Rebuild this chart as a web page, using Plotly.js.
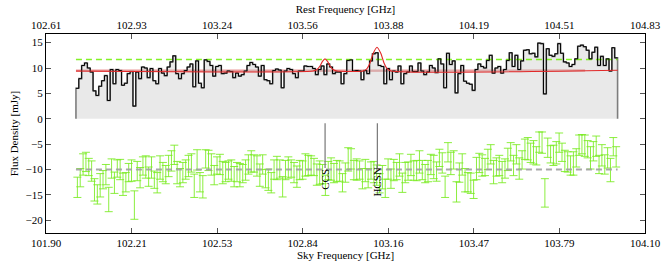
<!DOCTYPE html>
<html>
<head>
<meta charset="utf-8">
<script src="https://cdn.plot.ly/plotly-3.0.1.min.js"></script>
<style>
  html, body { margin: 0; padding: 0; background: #ffffff; }
  #chart { width: 664px; height: 266px; }
</style>
</head>
<body>
<div id="chart"></div>
<script>
// ---------------- data ----------------
// Spectrum: flux density per channel [mJy]
const spectrum = [
  6.0, 7.9, 10.5, 11.0, 10.0, 9.2, 5.5, 4.6, 6.4, 7.5, 8.5, 3.6, 9.7, 6.9, 9.7, 9.5, 6.6, 7.0, 8.9, 9.3,
  2.5, 9.2, 7.9, 10.2, 10.0, 8.1, 9.9, 7.5, 6.9, 9.9, 9.0, 8.5, 10.2, 11.2, 12.4, 8.9, 7.9, 8.9,
  9.5, 10.2, 10.8, 6.3, 11.4, 7.0, 6.1, 11.6, 11.3, 10.5, 8.4, 10.3, 10.5, 8.9, 9.0, 9.4, 9.3, 8.1, 9.0, 8.4,
  8.7, 9.4, 10.5, 11.1, 10.7, 10.2, 8.4, 10.5, 7.7, 7.5, 6.9, 9.5, 9.8, 9.6, 6.1, 9.4, 9.9, 9.7, 8.9,
  8.1, 9.4, 9.4, 10.4, 10.3, 10.3, 9.9, 8.7, 9.7, 10.4, 8.7, 10.8, 10.2, 8.9, 9.2, 9.2, 6.9, 8.9, 11.5, 11.6,
  9.4, 9.5, 9.4, 7.7, 9.5, 8.9, 11.4, 12.8, 13.0, 10.5, 10.3, 6.9, 9.9, 7.7, 9.4, 9.2, 10.4, 6.9, 8.9,
  9.2, 10.4, 9.3, 9.3, 11.0, 9.4, 8.7, 9.2, 10.5, 10.0, 9.1, 11.8, 10.8, 6.1, 12.9, 10.7, 11.4, 5.1, 8.9, 10.5,
  7.4, 7.0, 6.8, 5.6, 9.7, 10.8, 10.3, 10.0, 11.5, 12.5, 9.0, 10.0, 10.3, 9.0, 9.7, 11.5, 13.0, 10.3,
  12.5, 9.7, 11.4, 13.5, 13.6, 12.8, 12.9, 12.2, 14.9, 14.8, 4.9, 13.8, 12.5, 12.3, 12.8, 14.8, 12.9, 11.2,
  11.0, 10.3, 10.7, 11.8, 14.3, 14.5, 14.2, 13.5, 11.8, 13.1, 14.1, 10.5, 12.3, 10.5, 11.8, 9.4, 14.0, 12.0
];
// Residuals (data - model), drawn offset at -10 mJy
const residual = [
  -13.5, -11.6, -9.0, -8.5, -9.5, -10.3, -14.0, -14.9, -13.1, -12.0, -11.0, -15.9, -9.8, -12.6, -9.8, -10.0, -12.9, -12.5, -10.6, -10.2,
  -17.0, -10.3, -11.6, -9.3, -9.5, -11.4, -9.6, -12.0, -12.6, -9.6, -10.5, -11.0, -9.3, -8.3, -7.1, -10.6, -11.6, -10.6,
  -10.0, -9.3, -8.7, -13.2, -8.1, -12.5, -13.4, -7.9, -8.2, -9.0, -11.1, -9.2, -9.0, -10.6, -10.5, -10.1, -10.2, -11.4, -10.5, -11.1,
  -10.8, -10.1, -9.0, -8.4, -8.8, -9.3, -11.1, -9.0, -11.8, -12.0, -12.6, -10.0, -9.7, -9.9, -13.4, -10.1, -9.6, -9.8, -10.6,
  -11.4, -10.1, -10.1, -9.1, -9.2, -9.2, -9.5, -11.0, -10.6, -10.9, -13.1, -10.2, -9.9, -10.7, -10.3, -10.3, -12.6, -10.6, -8.0, -7.9,
  -10.1, -10.0, -10.1, -11.8, -10.2, -11.7, -10.2, -10.5, -11.1, -12.7, -11.5, -13.7, -9.9, -11.8, -10.1, -10.3, -9.1, -12.6, -10.6,
  -10.3, -9.1, -10.2, -10.2, -8.5, -10.1, -10.8, -10.3, -9.0, -9.5, -10.4, -7.7, -8.7, -13.4, -6.6, -8.8, -8.1, -14.4, -10.6, -9.0,
  -12.1, -12.5, -12.7, -13.9, -9.8, -8.7, -9.2, -9.5, -8.0, -7.0, -10.5, -9.5, -9.2, -10.5, -9.8, -8.0, -6.5, -9.2,
  -7.0, -9.8, -8.1, -6.0, -5.9, -6.7, -6.6, -7.3, -4.6, -4.7, -14.6, -5.7, -7.0, -7.2, -6.7, -4.7, -6.6, -8.3,
  -8.5, -9.2, -8.8, -7.7, -5.2, -5.0, -5.3, -6.0, -7.7, -6.4, -5.4, -9.0, -7.2, -9.0, -7.7, -10.1, -5.5, -7.5
];
// 1-sigma uncertainty of each residual [mJy]
const residualErr = [
  2.0, 1.8, 2.1, 1.9, 1.7, 2.0, 2.2, 1.9, 2.3, 1.8, 2.0, 2.4, 1.9, 2.1, 1.7, 2.0, 2.2, 1.9, 1.8, 2.1,
  2.8, 1.9, 2.0, 1.8, 2.2, 1.9, 2.1, 1.7, 2.0, 2.3, 1.9, 1.8, 2.1, 2.0, 1.9, 2.2, 1.8, 2.0,
  1.9, 2.1, 1.8, 2.3, 2.0, 1.9, 2.2, 1.8, 2.0, 2.1, 1.9, 1.7, 2.0, 2.2, 1.9, 1.8, 2.1, 2.0, 1.9, 2.3,
  1.8, 2.0, 1.9, 2.1, 1.7, 2.0, 2.2, 1.9, 1.8, 2.1, 2.0, 1.9, 2.3, 1.8, 2.0, 1.9, 2.1, 1.7, 2.0,
  2.1, 1.9, 1.8, 2.2, 2.0, 1.9, 1.7, 2.1, 2.3, 1.9, 2.0, 1.8, 2.2, 1.9, 2.1, 2.0, 1.8, 1.9, 2.3, 2.0,
  1.9, 2.1, 1.8, 2.0, 2.2, 1.9, 1.7, 2.1, 2.0, 1.9, 2.3, 1.8, 2.0, 1.9, 2.1, 1.7, 2.2, 1.9, 2.0,
  1.8, 2.1, 1.9, 2.0, 2.2, 1.9, 1.8, 2.1, 2.0, 2.3, 1.9, 1.7, 2.0, 2.1, 1.9, 2.2, 1.8, 2.0, 1.9, 2.1,
  2.3, 1.9, 2.0, 1.8, 2.2, 1.9, 2.1, 1.7, 2.0, 1.9, 2.3, 1.8, 2.0, 2.1, 1.9, 2.2, 1.8, 2.0,
  1.9, 2.1, 1.8, 2.0, 2.2, 1.9, 2.3, 1.8, 2.0, 2.1, 2.8, 1.9, 1.7, 2.0, 2.2, 1.9, 1.8, 2.1,
  2.0, 1.9, 2.3, 1.8, 2.0, 1.9, 2.1, 1.7, 2.2, 1.9, 2.0, 1.8, 2.1, 1.9, 2.0, 2.3, 1.8, 2.0
];
// first channel edge and channel width [GHz, sky frame]
const specStart = 102.010;
const chanWidth = 0.01047;

// Model (red line): baseline plus the two fitted lines, read as points
const modelFreq = [102.010, 102.8806, 102.8953, 102.9064, 102.9155, 102.9247, 102.9339, 102.9431, 102.9541, 102.9688,
                   103.0643, 103.0790, 103.0900, 103.1010, 103.1157, 103.1304, 103.1414, 103.1524, 103.1671, 104.000];
const modelFlux = [9.40, 9.40, 9.70, 10.40, 11.30, 11.80, 11.30, 10.40, 9.70, 9.40,
                   9.42, 9.90, 11.00, 12.80, 14.10, 12.80, 11.00, 9.90, 9.43, 9.55];
const continuumFreq = [102.010, 103.880];
const continuumFlux = [9.45, 9.50];
const detectLevel = 11.7;     // green dashed level
const residualOffset = -10;   // grey dashed level of residual panel

// identified lines
const lineNames = ['CCS', 'HCSN'];
const lineFreqs = [102.925, 103.117];

// axis ticks
const skyTicks = [101.90, 102.2143, 102.5286, 102.8429, 103.1571, 103.4714, 103.7857, 104.10];
const skyTickText = ['101.90', '102.21', '102.53', '102.84', '103.16', '103.47', '103.79', '104.10'];
const restTicks = [102.61, 102.9271, 103.2443, 103.5614, 103.8786, 104.1957, 104.5129, 104.83];
const restTickText = ['102.61', '102.93', '103.24', '103.56', '103.88', '104.19', '104.51', '104.83'];
const yTicks = [-20, -15, -10, -5, 0, 5, 10, 15];
const yTickText = ['\u221220', '\u221215', '\u221210', '\u22125', '0', '5', '10', '15'];

// ---------------- build traces ----------------
const N = spectrum.length;
const edges = [];
for (let i = 0; i <= N; i++) edges.push(specStart + i * chanWidth);
const centers = spectrum.map((_, i) => edges[i] + chanWidth / 2);
const xEnd = edges[N];

const FONT = 'Liberation Serif, Times New Roman, serif';

const traces = [];

// pale continuum line
traces.push({
  x: continuumFreq, y: continuumFlux,
  mode: 'lines', line: { color: 'rgba(225,120,120,0.75)', width: 2.4 },
  hoverinfo: 'skip', showlegend: false
});
// grey filled spectrum
const fillX = [edges[0]].concat(edges.slice(0, N)).concat([xEnd, xEnd]);
const fillY = [0].concat(spectrum).concat([spectrum[N - 1], 0]);
traces.push({
  x: fillX, y: fillY,
  mode: 'lines', line: { shape: 'hv', color: 'rgb(125,125,125)', width: 1.6 },
  fill: 'toself', fillcolor: 'rgba(200,200,200,0.40)',
  hoverinfo: 'skip', showlegend: false
});
// green dashed level
traces.push({
  x: [edges[0], xEnd], y: [detectLevel, detectLevel],
  mode: 'lines', line: { color: 'rgba(110,240,0,0.85)', width: 1.5, dash: '6px,4px' },
  hoverinfo: 'skip', showlegend: false
});
// black step spectrum
traces.push({
  x: edges, y: spectrum.concat([spectrum[N - 1]]),
  mode: 'lines', line: { shape: 'hv', color: '#000000', width: 1 },
  hoverinfo: 'skip', showlegend: false
});
// red model
traces.push({
  x: modelFreq, y: modelFlux,
  mode: 'lines', line: { shape: 'spline', smoothing: 0.6, color: 'rgb(225,40,40)', width: 1.1 },
  hoverinfo: 'skip', showlegend: false
});
// residual error bars
traces.push({
  x: centers, y: residual,
  mode: 'markers', marker: { size: 1, color: 'rgba(0,0,0,0)' },
  error_y: { type: 'data', array: residualErr, visible: true, color: 'rgba(120,235,30,0.85)', thickness: 1, width: 4 },
  hoverinfo: 'skip', showlegend: false
});
// residual dashed level
traces.push({
  x: [edges[0], xEnd], y: [residualOffset, residualOffset],
  mode: 'lines', line: { color: 'rgba(160,160,160,0.9)', width: 2, dash: '6px,4px' },
  hoverinfo: 'skip', showlegend: false
});
// invisible trace for the top (rest-frequency) axis
traces.push({
  x: [restTicks[0], restTicks[restTicks.length - 1]], y: [null, null],
  xaxis: 'x2', mode: 'lines', line: { width: 0 }, hoverinfo: 'skip', showlegend: false
});

// line markers
const shapes = lineFreqs.map(f => ({
  type: 'line', xref: 'x', yref: 'y', x0: f, x1: f, y0: -0.9, y1: -9.7,
  line: { color: 'rgb(120,120,120)', width: 1.2 }
}));
const annotations = lineNames.map((name, i) => ({
  x: lineFreqs[i], y: i === 0 ? -12.0 : -12.5, xref: 'x', yref: 'y',
  text: name, showarrow: false, textangle: -90,
  font: { family: FONT, size: 11, color: '#000' },
  xanchor: 'center', yanchor: 'middle'
}));

const axisCommon = {
  showgrid: false, zeroline: false, showline: true, linecolor: '#000', linewidth: 1,
  ticks: 'inside', ticklen: 5, tickwidth: 1, tickcolor: '#555',
  tickfont: { family: FONT, size: 11, color: '#000' }
};

const layout = {
  width: 664, height: 266,
  margin: { l: 46, r: 19, t: 34, b: 33, pad: 0 },
  paper_bgcolor: '#fff', plot_bgcolor: '#fff',
  font: { family: FONT, size: 11, color: '#000' },
  showlegend: false,
  xaxis: Object.assign({}, axisCommon, {
    range: [skyTicks[0], skyTicks[skyTicks.length - 1]],
    tickmode: 'array', tickvals: skyTicks, ticktext: skyTickText,
    title: { text: 'Sky Frequency [GHz]', font: { family: FONT, size: 11, color: '#000' }, standoff: 2 }
  }),
  xaxis2: Object.assign({}, axisCommon, {
    overlaying: 'x', side: 'top', anchor: 'y',
    range: [restTicks[0], restTicks[restTicks.length - 1]],
    tickmode: 'array', tickvals: restTicks, ticktext: restTickText,
    title: { text: 'Rest Frequency [GHz]', font: { family: FONT, size: 11, color: '#000' }, standoff: 2 }
  }),
  yaxis: Object.assign({}, axisCommon, {
    range: [-22.5, 16.7], mirror: 'ticks',
    tickmode: 'array', tickvals: yTicks, ticktext: yTickText,
    title: { text: 'Flux Density [mJy]', font: { family: FONT, size: 11, color: '#000' }, standoff: 4 }
  }),
  shapes: shapes,
  annotations: annotations
};

Plotly.newPlot('chart', traces, layout, { displayModeBar: false, staticPlot: true });
</script>
</body>
</html>
